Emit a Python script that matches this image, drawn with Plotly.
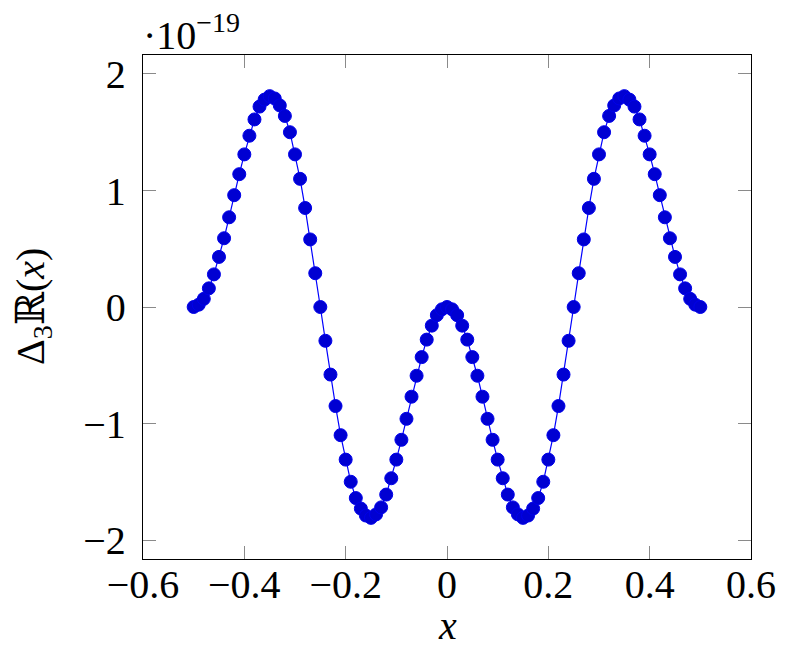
import plotly.graph_objects as go

# x positions of the samples
x_vals = [
    -0.50, -0.49, -0.48, -0.47, -0.46, -0.45, -0.44, -0.43, -0.42, -0.41,
    -0.40, -0.39, -0.38, -0.37, -0.36, -0.35, -0.34, -0.33, -0.32, -0.31,
    -0.30, -0.29, -0.28, -0.27, -0.26, -0.25, -0.24, -0.23, -0.22, -0.21,
    -0.20, -0.19, -0.18, -0.17, -0.16, -0.15, -0.14, -0.13, -0.12, -0.11,
    -0.10, -0.09, -0.08, -0.07, -0.06, -0.05, -0.04, -0.03, -0.02, -0.01,
    0.00,
    0.01, 0.02, 0.03, 0.04, 0.05, 0.06, 0.07, 0.08, 0.09, 0.10,
    0.11, 0.12, 0.13, 0.14, 0.15, 0.16, 0.17, 0.18, 0.19, 0.20,
    0.21, 0.22, 0.23, 0.24, 0.25, 0.26, 0.27, 0.28, 0.29, 0.30,
    0.31, 0.32, 0.33, 0.34, 0.35, 0.36, 0.37, 0.38, 0.39, 0.40,
    0.41, 0.42, 0.43, 0.44, 0.45, 0.46, 0.47, 0.48, 0.49, 0.50,
]

# Delta_3 R(x) values, in units of 1e-19
delta_vals_e19 = [
    0.00, 0.02, 0.07, 0.16, 0.28, 0.43, 0.59, 0.77, 0.96, 1.14,
    1.31, 1.47, 1.61, 1.72, 1.78, 1.81, 1.79, 1.73, 1.64, 1.50,
    1.31, 1.10, 0.85, 0.58, 0.29, 0.00, -0.29, -0.58, -0.85, -1.10,
    -1.31, -1.50, -1.64, -1.73, -1.79, -1.81, -1.78, -1.72, -1.61, -1.47,
    -1.31, -1.14, -0.96, -0.77, -0.59, -0.43, -0.28, -0.16, -0.07, -0.02,
    0.00,
    -0.02, -0.07, -0.16, -0.28, -0.43, -0.59, -0.77, -0.96, -1.14, -1.31,
    -1.47, -1.61, -1.72, -1.78, -1.81, -1.79, -1.73, -1.64, -1.50, -1.31,
    -1.10, -0.85, -0.58, -0.29, 0.00, 0.29, 0.58, 0.85, 1.10, 1.31,
    1.50, 1.64, 1.73, 1.79, 1.81, 1.78, 1.72, 1.61, 1.47, 1.31,
    1.14, 0.96, 0.77, 0.59, 0.43, 0.28, 0.16, 0.07, 0.02, 0.00,
]

x_ticks = [-0.6, -0.4, -0.2, 0, 0.2, 0.4, 0.6]
x_tick_labels = ["\u22120.6", "\u22120.4", "\u22120.2", "0", "0.2", "0.4", "0.6"]
y_ticks = [-2, -1, 0, 1, 2]
y_tick_labels = ["\u22122", "\u22121", "0", "1", "2"]

FONT = "'Liberation Serif', 'Times New Roman', 'DejaVu Serif', serif"

fig = go.Figure()
fig.add_trace(go.Scatter(
    x=x_vals, y=delta_vals_e19, mode="lines+markers",
    line=dict(color="rgb(0,0,255)", width=1.2),
    marker=dict(size=13, color="rgb(0,0,210)", line=dict(color="rgb(0,0,235)", width=1)),
    showlegend=False,
))

axis_common = dict(
    showline=True, linecolor="black", linewidth=1.3, mirror="ticks",
    ticks="inside", ticklen=13, tickcolor="#8a8a8a", tickwidth=1,
    showgrid=False, zeroline=False, automargin=False,
    tickfont=dict(family=FONT, size=40, color="black"),
)

fig.update_layout(
    width=780, height=639,
    margin=dict(l=135, r=37, t=47, b=88, autoexpand=False),
    paper_bgcolor="white", plot_bgcolor="white",
    xaxis=dict(range=[-0.6, 0.6], tickvals=x_ticks, ticktext=x_tick_labels,
               ticklabelstandoff=-10, **axis_common),
    yaxis=dict(range=[-2.163, 2.163], tickvals=y_ticks, ticktext=y_tick_labels,
               ticklabelstandoff=8, **axis_common),
    annotations=[
        dict(text="\u00b710<sup>\u221219</sup>", xref="paper", yref="paper",
             x=0, y=1, xanchor="left", yanchor="bottom", yshift=-5, xshift=-2,
             showarrow=False, font=dict(family=FONT, size=40, color="black")),
        dict(text="<i>x</i>", xref="paper", yref="paper",
             x=0.5, y=0, xanchor="center", yanchor="middle", yshift=-66,
             showarrow=False, font=dict(family=FONT, size=40, color="black")),
        dict(text="\u0394<sub>3</sub>\u211d(<i>x</i>)", xref="paper", yref="paper",
             x=0, y=0.5, xanchor="center", yanchor="middle", xshift=-110, textangle=-90,
             showarrow=False, font=dict(family=FONT, size=40, color="black")),
    ],
)

fig.write_html("out.html")
